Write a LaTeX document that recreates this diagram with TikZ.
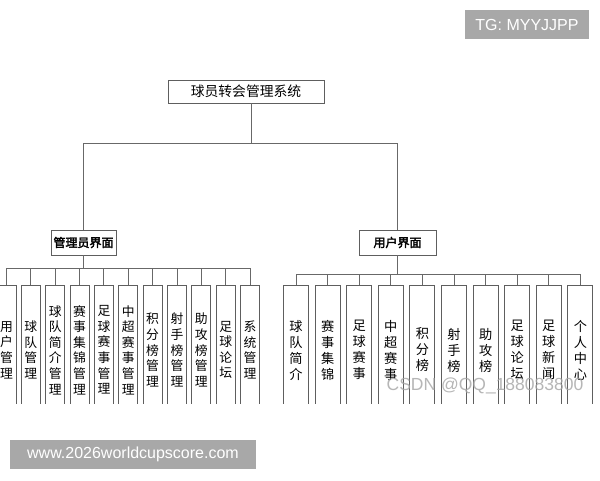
\documentclass[tikz,border=0pt]{standalone}
\usepackage{fontspec}
\newfontfamily\cjk{Noto Sans CJK SC}
\newfontfamily\cjkb[FakeBold=2.5]{Noto Sans CJK SC}
\newfontfamily\wmfont{Liberation Sans}
\definecolor{linegray}{HTML}{686868}
\definecolor{boxgray}{HTML}{5E5E5E}
\definecolor{wmgray}{HTML}{A8A8A8}
\definecolor{csdngray}{HTML}{A4A4A4}
\begin{document}
\begin{tikzpicture}[x=1pt,y=-1pt,
  conn/.style={draw=linegray, line width=0.9pt},
  topbox/.style={draw=boxgray, line width=0.9pt, minimum width=156pt, minimum height=23pt, inner sep=0pt, font=\cjk\fontsize{13.8}{15}\selectfont},
  midbox/.style={draw=boxgray, line width=0.9pt, minimum height=25pt, inner sep=0pt, font=\cjkb\fontsize{12}{14}\selectfont},
  lbox/.style={draw=boxgray, line width=0.9pt, minimum width=19pt, minimum height=130pt, inner sep=0pt, align=center, font=\cjk\fontsize{12.8}{15.6}\selectfont},
  rbox/.style={lbox, minimum width=25pt, font=\cjk\fontsize{13.2}{16}\selectfont},
  wm/.style={fill=wmgray, text=white, inner sep=0pt, minimum height=29pt, font=\wmfont\fontsize{16}{18}\selectfont}
]
\useasboundingbox[fill=white] (0,0) rectangle (600,480);
\begin{scope}
\clip (0,0) rectangle (600,403);
\node[topbox] (sys) at (246,91.5) {球员转会管理系统};
\node[midbox, minimum width=65pt] (adm) at (83.5,242.5) {管理员界面};
\node[midbox, minimum width=77pt] (usr) at (397.5,242.5) {用户界面};
\coordinate (tbus) at (251,143);
\coordinate (lbus) at (83,268);
\coordinate (rbus) at (397,274);
\draw[conn] (sys.south -| tbus) -- (tbus) -| (adm.north);
\draw[conn] (tbus) -| (usr.north);
\foreach \t [count=\i from 0] in {用\\户\\管\\理, 球\\队\\管\\理, 球\\队\\简\\介\\管\\理, 赛\\事\\集\\锦\\管\\理, 足\\球\\赛\\事\\管\\理, 中\\超\\赛\\事\\管\\理, 积\\分\\榜\\管\\理, 射\\手\\榜\\管\\理, 助\\攻\\榜\\管\\理, 足\\球\\论\\坛, 系\\统\\管\\理}{
  \node[lbox] (l\i) at ({6.5+24.35*\i},350) {\t};
  \draw[conn] (adm.south -| lbus) -- (lbus) -| (l\i.north);
}
\foreach \t [count=\i from 0] in {球\\队\\简\\介, 赛\\事\\集\\锦, 足\\球\\赛\\事, 中\\超\\赛\\事, 积\\分\\榜, 射\\手\\榜, 助\\攻\\榜, 足\\球\\论\\坛, 足\\球\\新\\闻, 个\\人\\中\\心}{
  \node[rbox] (r\i) at ({296+31.6*\i},350) {\t};
  \draw[conn] (usr.south -| rbus) -- (rbus) -| (r\i.north);
}
\end{scope}
\node[text=csdngray, opacity=0.8, font=\wmfont\fontsize{17.5}{20}\selectfont] (csdn) at (485,386) {CSDN @QQ\_188083800};
\node[wm, minimum width=124pt] (tg) at (527,24.5) {TG: MYYJJPP};
\node[wm, minimum width=246pt] (www) at (133,454.5) {www.2026worldcupscore.com};
\end{tikzpicture}
\end{document}
